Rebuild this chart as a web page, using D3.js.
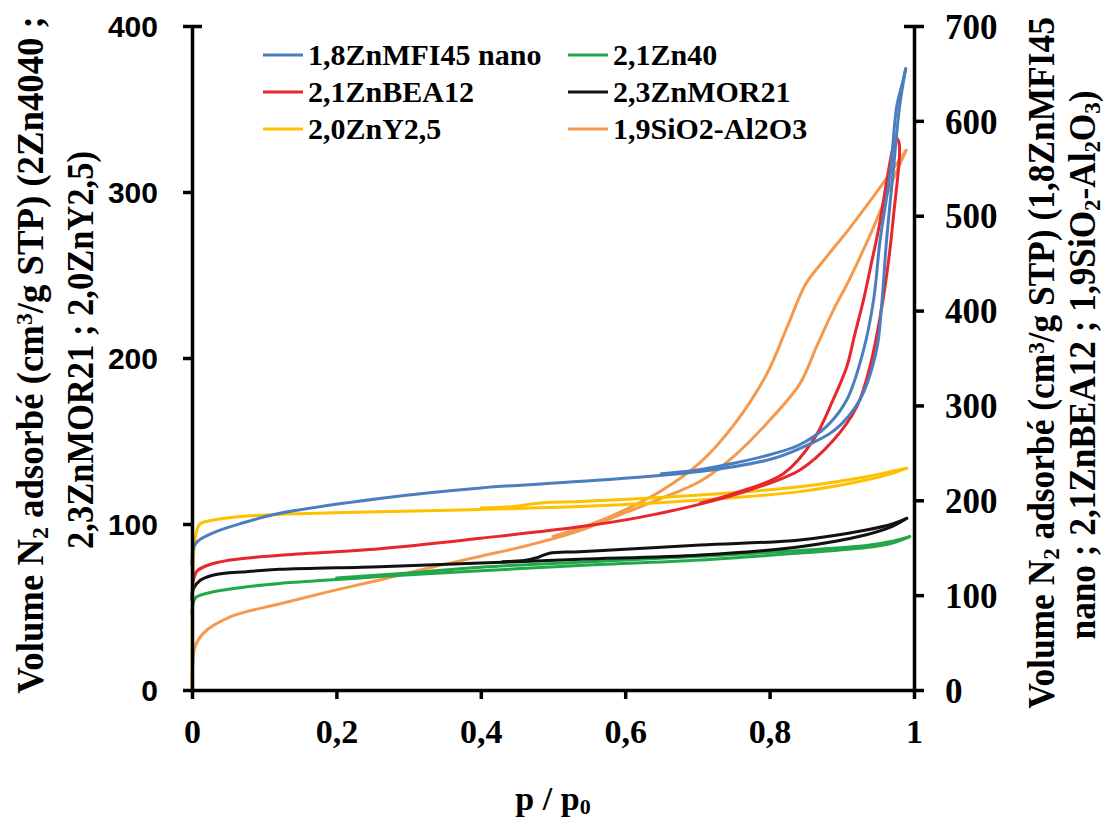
<!DOCTYPE html>
<html><head><meta charset="utf-8">
<script src="https://cdn.jsdelivr.net/npm/d3@7"></script>
<style>
html,body{margin:0;padding:0;background:#fff;}
svg{display:block;}
</style></head>
<body>
<svg id="chart" width="1106" height="825"></svg>
<script>
// ---------- DATA ----------
const seriesNames = ["1,8ZnMFI45 nano","2,1Zn40","2,1ZnBEA12","2,3ZnMOR21","2,0ZnY2,5","1,9SiO2-Al2O3"];
const seriesColors = ["#4a7ebf","#22a84b","#e8262b","#111111","#ffc000","#f59a4c"];
const seriesAxis = ["right","left","right","left","left","right"];

const xTicks = [0,0.2,0.4,0.6,0.8,1];
const xTickLabels = ["0","0,2","0,4","0,6","0,8","1"];
const leftTicks = [0,100,200,300,400];
const rightTicks = [0,100,200,300,400,500,600,700];

// [p/p0, volume] adsorption and desorption branches
const mfiAds = [[0,132],[0.002,150],[0.008,157],[0.03,166],[0.07,176],[0.12,186],[0.26,202],[0.4,213],[0.54,220],[0.7,230],[0.8,243],[0.84,254],[0.89,274],[0.925,306],[0.948,358],[0.955,404],[0.962,474],[0.971,545],[0.98,615],[0.9885,655]];
const mfiDes = [[0.9885,655],[0.984,640],[0.976,615],[0.967,545],[0.953,474],[0.944,411],[0.93,358],[0.907,306],[0.879,278],[0.84,258],[0.8,248],[0.75,239],[0.7,232],[0.65,228]];

const beaAds = [[0,100],[0.002,116],[0.0065,125],[0.02,131],[0.053,137],[0.122,142],[0.26,149],[0.4,160],[0.537,172],[0.62,182],[0.704,196],[0.773,211],[0.842,232],[0.888,263],[0.921,299],[0.939,341],[0.957,411],[0.966,460],[0.973,510],[0.978,545],[0.98,566],[0.979,578],[0.976,582]];
const beaDes = [[0.976,582],[0.971,572],[0.963,540],[0.952,490],[0.941,450],[0.93,411],[0.918,375],[0.907,341],[0.888,306],[0.861,264],[0.819,228],[0.75,207],[0.704,197]];

const sioAds = [[0,0],[0.001,25],[0.004,45],[0.016,60],[0.053,77],[0.122,91],[0.191,104],[0.26,116],[0.33,129],[0.4,141],[0.468,153],[0.537,168],[0.6,187],[0.65,202],[0.704,220],[0.75,246],[0.796,281],[0.842,323],[0.865,362],[0.888,400],[0.91,432],[0.944,488],[0.971,538],[0.989,569]];
const sioDes = [[0.989,569],[0.957,534],[0.911,487],[0.875,453],[0.85,428],[0.825,384],[0.796,333],[0.75,279],[0.704,240],[0.65,210],[0.6,190],[0.55,174],[0.5,162]];

const zn40Ads = [[0,46],[0.002,53],[0.006,56],[0.03,59.2],[0.076,62.2],[0.122,64.2],[0.2,66.5],[0.26,68.3],[0.4,71.8],[0.537,75],[0.704,78.3],[0.842,82.5],[0.934,85.8],[0.97,88.5],[0.994,92.4]];
const zn40Des = [[0.994,92.4],[0.97,89.6],[0.934,87],[0.842,84],[0.704,80.5],[0.537,77],[0.4,74],[0.3,70.5],[0.2,67.5]];

const morAds = [[0,54],[0.002,61],[0.011,66],[0.03,69.3],[0.076,71.3],[0.122,72.7],[0.26,74.3],[0.4,76.5],[0.537,78.7],[0.704,81.3],[0.842,86.3],[0.934,93.5],[0.97,98.5],[0.99,103.4]];
const morDes = [[0.99,103.4],[0.97,100],[0.934,96.4],[0.842,90.4],[0.704,87.3],[0.537,83.3],[0.495,82.4],[0.48,80],[0.46,78],[0.43,77.3]];

const yAds = [[0,4],[0.001,62],[0.003,86],[0.006,95],[0.011,100],[0.03,102.4],[0.076,104.8],[0.122,105.8],[0.26,107.4],[0.4,108.8],[0.537,110.5],[0.704,114.5],[0.842,119.5],[0.934,126.5],[0.97,130.5],[0.99,133.6]];
const yDes = [[0.99,133.6],[0.97,131.8],[0.934,128.5],[0.842,122.5],[0.704,117.5],[0.537,113.6],[0.49,113],[0.47,112],[0.445,110.6],[0.4,109.6]];

const branches = [
  [mfiAds, mfiDes],
  [zn40Ads, zn40Des],
  [beaAds, beaDes],
  [morAds, morDes],
  [yAds, yDes],
  [sioAds, sioDes]
];
// draw order (back to front)
const drawOrder = [5,1,3,4,2,0];

// ---------- CHART ----------
const svg = d3.select("#chart");
const x = d3.scaleLinear().domain([0,1]).range([192,914]);
const yL = d3.scaleLinear().domain([0,400]).range([690,26]);
const yR = d3.scaleLinear().domain([0,700]).range([690,26]);

const serif = "'Liberation Serif','Times New Roman',serif";
const sans = "'Liberation Sans',Arial,sans-serif";

// curves
const gCurves = svg.append("g");
drawOrder.forEach(i => {
  const ys = seriesAxis[i] === "left" ? yL : yR;
  const line = d3.line().x(d => x(d[0])).y(d => ys(d[1])).curve(d3.curveCatmullRom.alpha(0.5));
  branches[i].forEach(br => {
    gCurves.append("path").attr("d", line(br))
      .attr("fill","none").attr("stroke",seriesColors[i])
      .attr("stroke-width",3).attr("stroke-linejoin","round").attr("stroke-linecap","round");
  });
});

// axes
function styleAxis(g, font, size){
  g.select(".domain").attr("stroke","#000").attr("stroke-width",3.5);
  g.selectAll(".tick line").attr("stroke","#000").attr("stroke-width",3.5);
  g.selectAll(".tick text").attr("fill","#000").style("font-family",font)
    .style("font-size",size+"px").style("font-weight","bold");
}
const gx = svg.append("g").attr("transform","translate(0,690)")
  .call(d3.axisBottom(x).tickValues(xTicks).tickFormat((d,i)=>xTickLabels[i]).tickSizeInner(9).tickSizeOuter(0).tickPadding(20));
styleAxis(gx, serif, 34);

const gl = svg.append("g").attr("transform","translate(192,0)")
  .call(d3.axisLeft(yL).tickValues(leftTicks).tickFormat(d3.format("d")).tickSizeInner(9).tickSizeOuter(0).tickPadding(25));
styleAxis(gl, sans, 30);
gl.selectAll(".tick text").attr("dy","0.36em");
// top tick crosses the axis
gl.selectAll(".tick").filter(d => d === 400).select("line").attr("x1", 10);

const gr = svg.append("g").attr("transform","translate(914,0)")
  .call(d3.axisRight(yR).tickValues(rightTicks).tickFormat(d3.format("d")).tickSizeInner(10).tickSizeOuter(0).tickPadding(21));
styleAxis(gr, serif, 35);
gr.selectAll(".tick text").attr("dy","0.35em");
gr.selectAll(".tick").filter(d => d === 700).select("line").attr("x1", -10);

// x title
const xt = svg.append("text").attr("x",553).attr("y",810).attr("text-anchor","middle")
  .style("font-family",serif).style("font-size","34px").style("font-weight","bold");
xt.append("tspan").text("p / p");
xt.append("tspan").attr("baseline-shift","-18%").style("font-size","22px").text("0");

// rotated titles built from segments [text, type]
function rotTitle(cx, cy, len, parts){
  const t = svg.append("text").attr("text-anchor","middle")
    .style("font-family",serif).style("font-size","37px").style("font-weight","bold");
  parts.forEach(p => {
    const ts = t.append("tspan").text(p[0]);
    if (p[1]==="sub") ts.attr("baseline-shift","-20%").style("font-size","24px");
    if (p[1]==="sup") ts.attr("baseline-shift","45%").style("font-size","24px");
  });
  const w = t.node().getComputedTextLength();
  t.attr("transform",`translate(${cx},${cy}) rotate(-90) scale(${len/w},1)`);
}
rotTitle(43, 355, 678, [["Volume N"],["2","sub"],[" adsorbé (cm"],["3","sup"],["/g STP) (2Zn4040 ;"]]);
rotTitle(93, 350, 398, [["2,3ZnMOR21 ; 2,0ZnY2,5)"]]);
rotTitle(1054, 363, 692, [["Volume N"],["2","sub"],[" adsorbé (cm"],["3","sup"],["/g STP) (1,8ZnMFI45"]]);
rotTitle(1095, 365, 549, [["nano ; 2,1ZnBEA12 ; 1,9SiO"],["2","sub"],["-Al"],["2","sub"],["O"],["3","sub"],[")"]]);

// legend
const legX = [263, 568];
const legY = [55, 92, 129];
seriesNames.forEach((name,i) => {
  const col = i % 2, row = Math.floor(i/2);
  const g = svg.append("g").attr("transform",`translate(${legX[col]},${legY[row]})`);
  g.append("line").attr("x1",0).attr("x2",40).attr("y1",0).attr("y2",0)
    .attr("stroke",seriesColors[i]).attr("stroke-width",3);
  g.append("text").attr("x",45).attr("y",0).attr("dy","0.34em").text(name)
    .style("font-family",serif).style("font-size","30px").style("font-weight","bold");
});
</script>
</body></html>
